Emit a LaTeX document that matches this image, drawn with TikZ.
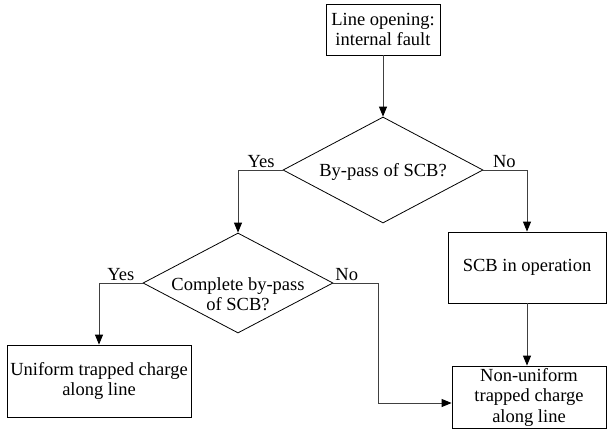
\documentclass[tikz,border=0pt]{standalone}
\usepackage{fontspec}
\setmainfont{Liberation Serif}
\usetikzlibrary{shapes.geometric,arrows.meta}

\tikzset{
	box/.style={draw, rectangle, line width=0.8pt, align=center, inner sep=0pt},
	decision/.style={draw, diamond, line width=0.8pt, inner sep=0pt},
	flow/.style={draw=black!75, line width=0.9pt, -{Triangle[length=10pt,width=8pt,black]}},
	link/.style={draw=black!75, line width=0.9pt},
	answer/.style={above, inner sep=1.5pt}
}

\begin{document}
\begin{tikzpicture}[x=1pt, y=-1pt, font=\fontsize{18.5}{20.5}\selectfont]
	\useasboundingbox (0,0) rectangle (607,442);

	% Boxes
	\node[box, minimum width=114pt, minimum height=51pt] (start) at (383,29.5) {Line opening:\\internal fault};
	\node[box, minimum width=158pt, minimum height=71pt] (scbop) at (527,267.5) {SCB in operation};
	\node[box, minimum width=184pt, minimum height=72pt] (uniform) at (99,381) {Uniform trapped charge\\along line};
	\node[box, minimum width=154pt, minimum height=62pt] (nonuni) at (529,397) {Non-uniform\\trapped charge\\along line};

	% Decisions
	\node[decision, minimum width=200pt, minimum height=106pt] (bypass) at (383,170) {};
	\node[align=center] (bypasstext) at (383,172) {By-pass of SCB?};
	\node[decision, minimum width=190pt, minimum height=100pt] (complete) at (238,283) {};
	\node[align=center] (completetext) at (238,294) {Complete by-pass\\of SCB?};

	% Connectors
	\draw[flow] (start) -- (bypass.north);
	\draw[flow] (bypass.west) -| node[answer, pos=0.24] {Yes} (complete.north);
	\draw[flow] (bypass.east) -| node[answer, pos=0.24] {No} (scbop.north);
	\draw[flow] (complete.west) -| node[answer, pos=0.25] {Yes} (uniform.north);
	\draw[flow] (scbop.south) -- (scbop.south |- nonuni.north);

	\coordinate (bend) at (378,403);
	\draw[link] (complete.east) -- node[answer, pos=0.3] {No} (complete.east -| bend) -- (bend);
	\draw[flow] (bend) -- (bend -| nonuni.west);
\end{tikzpicture}
\end{document}
